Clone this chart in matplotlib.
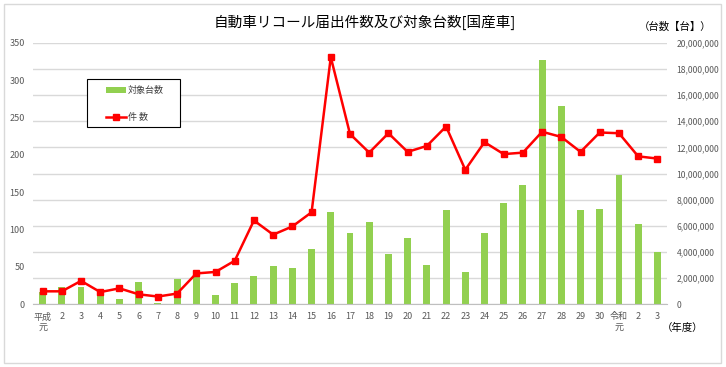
import numpy as np
import matplotlib
matplotlib.use('Agg')
import matplotlib.pyplot as plt
from matplotlib.patches import Rectangle, Patch
from matplotlib.lines import Line2D
from matplotlib.ticker import FuncFormatter, MultipleLocator

plt.rcParams['font.family'] = ['Noto Sans CJK JP', 'DejaVu Sans']

years = ['平成\n元'] + [str(i) for i in range(2, 31)] + ['令和\n元', '2', '3']
recalls = [17, 17, 31, 16, 21, 13, 10, 14, 41, 43, 58, 112, 93, 104, 123, 331,
           228, 203, 229, 204, 212, 238, 180, 217, 201, 203, 231, 224, 204, 230,
           229, 198, 195]
vehicles = [0.90, 1.28, 1.33, 1.02, 0.38, 1.71, 0.08, 1.92, 2.25, 0.69, 1.61,
            2.15, 2.94, 2.78, 4.24, 7.07, 5.42, 6.31, 3.81, 5.08, 2.99, 7.18,
            2.43, 5.42, 7.74, 9.14, 18.67, 15.20, 7.20, 7.25, 9.88, 6.11, 3.96]
vehicles = [v * 1e6 for v in vehicles]

green = '#92D050'
red = '#FF0000'
tick_col = '#595959'
grid_col = '#D9D9D9'

fig = plt.figure(figsize=(7.26, 3.67), dpi=100)
fig.patches.append(Rectangle((4 / 726, 1 - 363 / 367), 717 / 726, 359 / 367,
                             transform=fig.transFigure, fill=False,
                             edgecolor='#D9D9D9', linewidth=1))

ax = fig.add_axes([33 / 726, 1 - 304 / 367, 634 / 726, 261 / 367])
ax2 = ax.twinx()
# bars behind the line
ax2.set_zorder(ax.get_zorder() - 1)
ax.patch.set_visible(False)

x = np.arange(len(years))
ax2.bar(x, vehicles, width=0.36, color=green, zorder=2)
ax2.set_ylim(0, 20e6)
ax2.yaxis.set_major_locator(MultipleLocator(2e6))
ax2.yaxis.set_major_formatter(FuncFormatter(lambda v, p: f'{int(v):,}'))
ax2.grid(axis='y', color=grid_col, linewidth=1)
ax2.set_axisbelow(True)

ax.plot(x, recalls, color=red, linewidth=1.8, marker='s', markersize=5, zorder=3)
ax.set_ylim(0, 350)
ax.yaxis.set_major_locator(MultipleLocator(50))
ax.set_xlim(-0.5, len(years) - 0.5)
ax.set_xticks(x)
ax.set_xticklabels(years, linespacing=1.3)

for a in (ax, ax2):
    for s in a.spines.values():
        s.set_visible(False)
    a.tick_params(length=0, labelsize=6.5, colors=tick_col)
ax.spines['bottom'].set_visible(True)
ax.spines['bottom'].set_color('#BFBFBF')
ax.tick_params(axis='x', pad=6)
ax.tick_params(axis='y', pad=6)
ax2.tick_params(axis='y', pad=7, labelsize=6.2)
for lbl in ax.get_xticklabels():
    lbl.set_verticalalignment('top')

fig.text(365 / 726, 1 - 22 / 367, '自動車リコール届出件数及び対象台数[国産車]',
         ha='center', va='center', fontsize=10.5, color='#000000')
fig.text(675 / 726, 1 - 27 / 367, '（台数【台】）', ha='center', va='center',
         fontsize=7.5, color='#000000')
fig.text(683 / 726, 1 - 328 / 367, '（年度）', ha='center', va='center',
         fontsize=7.5, color='#000000')

# legend box: frame drawn separately so its padding matches the original
fig.patches.append(Rectangle((87 / 726, 1 - 127 / 367), 93 / 726, 48 / 367,
                             transform=fig.transFigure, fill=True, facecolor='white',
                             edgecolor='black', linewidth=0.8, zorder=5))
handles = [Patch(facecolor=green, edgecolor='none'),
           Line2D([0], [0], color=red, linewidth=1.8, marker='s', markersize=5)]
leg = fig.legend(handles, ['対象台数', '件 数'], loc='upper left',
                 bbox_to_anchor=(106 / 726, 1 - 86 / 367),
                 frameon=False, fontsize=6.5, labelspacing=2.0,
                 handlelength=2.2, handletextpad=0.2, borderpad=0,
                 borderaxespad=0)
leg.set_zorder(6)
for t in leg.get_texts():
    t.set_color('#404040')

fig.savefig('out.png', dpi=100)
